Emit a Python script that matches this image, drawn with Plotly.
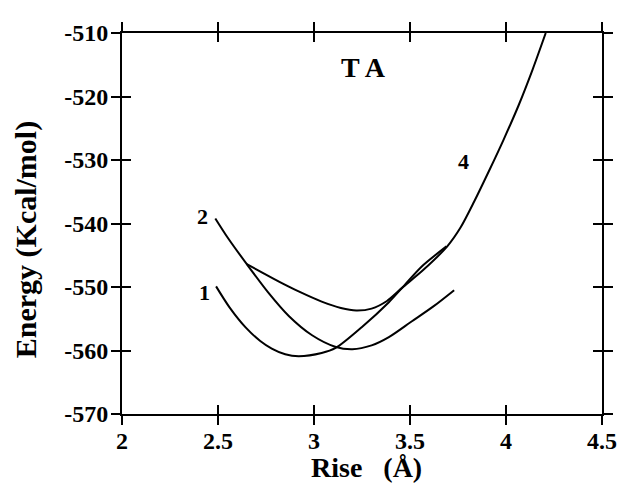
import plotly.graph_objects as go

# ---- data ----
rise_1 = [2.49, 2.56, 2.645, 2.72, 2.78, 2.85, 2.92, 3.04, 3.113, 3.25, 3.39, 3.46, 3.56, 3.69]
energy_1 = [-549.9, -553.2, -556.4, -558.5, -559.7, -560.6, -560.9, -560.4, -559.6, -556.3, -552.4, -550.1, -546.8, -543.6]

rise_2 = [2.486, 2.55, 2.65, 2.76, 2.87, 2.99, 3.11, 3.20, 3.30, 3.39, 3.51, 3.62, 3.73]
energy_2 = [-539.2, -542.2, -546.4, -550.8, -554.6, -557.6, -559.4, -559.8, -559.2, -557.9, -555.4, -553.1, -550.5]

rise_4 = [2.65, 2.74, 2.82, 2.92, 3.04, 3.14, 3.22, 3.30, 3.38, 3.46, 3.57, 3.694,
          3.764, 3.835, 3.915, 3.986, 4.067, 4.138, 4.207]
energy_4 = [-546.4, -547.9, -549.2, -550.7, -552.3, -553.3, -553.7, -553.4, -552.2, -550.1, -547.3, -543.6,
            -540.6, -536.5, -531.5, -526.9, -521.3, -515.8, -510.0]

x_ticks = [2, 2.5, 3, 3.5, 4, 4.5]
x_tick_labels = ["2", "2.5", "3", "3.5", "4", "4.5"]
y_ticks = [-570, -560, -550, -540, -530, -520, -510]
y_tick_labels = ["-570", "-560", "-550", "-540", "-530", "-520", "-510"]

curve_labels = ["1", "2", "4"]
label_x = [2.43, 2.418, 3.78]
label_y = [-550.8, -538.9, -530.3]

SERIF = "Liberation Serif"

fig = go.Figure()
for xs, ys in [(rise_1, energy_1), (rise_2, energy_2), (rise_4, energy_4)]:
    fig.add_trace(go.Scatter(x=xs, y=ys, mode="lines",
                             line=dict(color="black", width=2, shape="spline", smoothing=0.8),
                             showlegend=False, hoverinfo="skip"))
# empty trace to activate the overlay axes (inside half of crossing ticks)
fig.add_trace(go.Scatter(x=[], y=[], xaxis="x2", yaxis="y2", showlegend=False))

tickfont = dict(family=SERIF, size=24, color="black", weight="bold")
common = dict(showgrid=False, zeroline=False, showline=True, linewidth=2, linecolor="black",
              ticklen=9, tickwidth=2, tickcolor="black", mirror="ticks", fixedrange=True)

fig.update_layout(
    width=622, height=482,
    margin=dict(l=114, r=28, t=16, b=76),
    paper_bgcolor="white", plot_bgcolor="white",
    xaxis=dict(range=[2, 4.5], tickvals=x_ticks, ticktext=x_tick_labels, ticks="outside",
               tickfont=tickfont, ticklabelstandoff=-5, **common),
    yaxis=dict(range=[-570, -510], tickvals=y_ticks, ticktext=y_tick_labels, ticks="outside",
               tickfont=tickfont, ticklabelstandoff=-2, **common),
    xaxis2=dict(range=[2, 4.5], tickvals=x_ticks, ticks="inside", overlaying="x", side="bottom",
                showticklabels=False, **common),
    yaxis2=dict(range=[-570, -510], tickvals=y_ticks, ticks="inside", overlaying="y", side="left",
                showticklabels=False, **common),
)

for t, x, y in zip(curve_labels, label_x, label_y):
    fig.add_annotation(x=x, y=y, text=t, showarrow=False,
                       font=dict(family=SERIF, size=22, color="black", weight="bold"))

fig.add_annotation(x=3.26, y=-515.5, text="T A", showarrow=False,
                   font=dict(family=SERIF, size=28, color="black", weight="bold"))

fig.add_annotation(xref="paper", yref="paper", x=0.51, y=-0.14, text="Rise\u00a0\u00a0\u00a0(Å)",
                   showarrow=False, xanchor="center", yanchor="middle",
                   font=dict(family=SERIF, size=28, color="black", weight="bold"))
fig.add_annotation(xref="paper", yref="paper", x=-0.2, y=0.456, text="Energy (Kcal/mol)",
                   textangle=-90, showarrow=False, xanchor="center", yanchor="middle",
                   font=dict(family=SERIF, size=30, color="black", weight="bold"))

fig.write_html("out.html")
